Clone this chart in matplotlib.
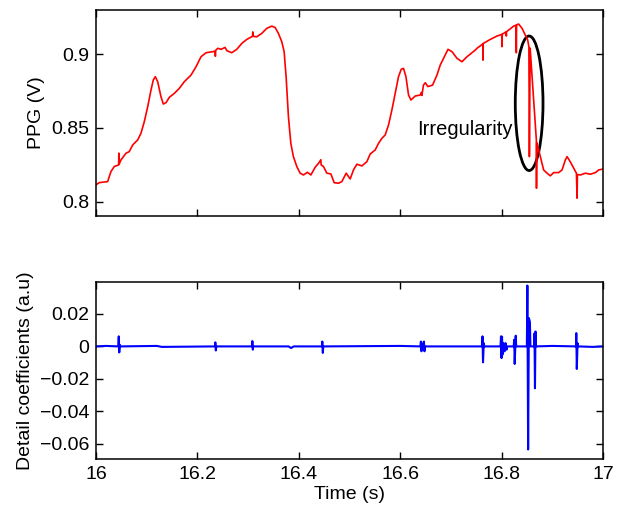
import numpy as np
import matplotlib
matplotlib.use("Agg")
import matplotlib.pyplot as plt
from matplotlib.patches import Ellipse

plt.rcParams['font.family'] = ['Liberation Sans', 'DejaVu Sans']
plt.rcParams['font.size'] = 14

# PPG trace: (time s, volts)
ppg_points = [
    (16.000, 0.8115), (16.0065, 0.8130), (16.0231, 0.8137), (16.0296, 0.8205),
    (16.0361, 0.8239), (16.0448, 0.8250), (16.0452, 0.8330), (16.0458, 0.8255),
    (16.0494, 0.8284), (16.0592, 0.8329), (16.0657, 0.8340), (16.0725, 0.8385),
    (16.0823, 0.8419), (16.0888, 0.8464), (16.0954, 0.8543), (16.1021, 0.8644),
    (16.1086, 0.8757), (16.1131, 0.8824), (16.1171, 0.8847), (16.1218, 0.8813),
    (16.1283, 0.8711), (16.1329, 0.8662), (16.1382, 0.8671), (16.1447, 0.8707),
    (16.1546, 0.8734), (16.1645, 0.8768), (16.1743, 0.8813), (16.1876, 0.8858),
    (16.1974, 0.8914), (16.2073, 0.8982), (16.2172, 0.9009), (16.2304, 0.9016),
    (16.2350, 0.9020), (16.2356, 0.8985), (16.2362, 0.9025), (16.2403, 0.9039),
    (16.2468, 0.9032), (16.2547, 0.9045), (16.2581, 0.9023), (16.2679, 0.9009),
    (16.2778, 0.9032), (16.2877, 0.9072), (16.2975, 0.9099), (16.3074, 0.9117),
    (16.3088, 0.9120), (16.3094, 0.9150), (16.3100, 0.9120), (16.3173, 0.9117),
    (16.3271, 0.9140), (16.3370, 0.9174), (16.3469, 0.9189), (16.3534, 0.9180),
    (16.3599, 0.9140), (16.3666, 0.9083), (16.3712, 0.9016), (16.3751, 0.8847),
    (16.3797, 0.8576), (16.3844, 0.8396), (16.3895, 0.8306), (16.3962, 0.8239),
    (16.4028, 0.8194), (16.4093, 0.8182), (16.4172, 0.8200), (16.4239, 0.8182),
    (16.4324, 0.8234), (16.4400, 0.8265), (16.4436, 0.8285), (16.4442, 0.8250),
    (16.4488, 0.8239), (16.4555, 0.8194), (16.4634, 0.8189), (16.4699, 0.8130),
    (16.4784, 0.8126), (16.4851, 0.8137), (16.4936, 0.8194), (16.5015, 0.8155),
    (16.5080, 0.8216), (16.5147, 0.8255), (16.5246, 0.8243), (16.5344, 0.8272),
    (16.5410, 0.8324), (16.5508, 0.8351), (16.5574, 0.8396), (16.5641, 0.8430),
    (16.5706, 0.8453), (16.5771, 0.8520), (16.5838, 0.8622), (16.5903, 0.8734),
    (16.5968, 0.8847), (16.6022, 0.8897), (16.6067, 0.8903), (16.6115, 0.8847),
    (16.6166, 0.8723), (16.6213, 0.8689), (16.6298, 0.8716), (16.6397, 0.8723),
    (16.6420, 0.8740), (16.6430, 0.8720), (16.6460, 0.8790), (16.6496, 0.8806),
    (16.6549, 0.8780), (16.6640, 0.8790), (16.6727, 0.8858), (16.6792, 0.8926),
    (16.6857, 0.8971), (16.6944, 0.9032), (16.7023, 0.9016), (16.7122, 0.8971),
    (16.7220, 0.8948), (16.7319, 0.8982), (16.7483, 0.9027), (16.7516, 0.9039),
    (16.7630, 0.9068), (16.7635, 0.8959), (16.7640, 0.9072), (16.7779, 0.9099),
    (16.7911, 0.9122), (16.8005, 0.9133), (16.8010, 0.9050), (16.8015, 0.9135),
    (16.8090, 0.9150), (16.8095, 0.9122), (16.8100, 0.9152), (16.8140, 0.9162),
    (16.8239, 0.9189), (16.8287, 0.9195), (16.8292, 0.9009), (16.8297, 0.9198),
    (16.8338, 0.9203), (16.8405, 0.9174), (16.8470, 0.9128), (16.8516, 0.9095),
    (16.8540, 0.9050), (16.8550, 0.8306), (16.8565, 0.9040), (16.8687, 0.8420),
    (16.8690, 0.8092), (16.8695, 0.8400), (16.8701, 0.8396), (16.8766, 0.8306),
    (16.8831, 0.8216), (16.8898, 0.8194), (16.8963, 0.8176), (16.9029, 0.8198),
    (16.9127, 0.8198), (16.9194, 0.8216), (16.9260, 0.8284), (16.9293, 0.8306),
    (16.9358, 0.8270), (16.9424, 0.8228), (16.9477, 0.8194), (16.9491, 0.8025),
    (16.9497, 0.8185), (16.9556, 0.8182), (16.9655, 0.8194), (16.9753, 0.8187),
    (16.9852, 0.8198), (16.9917, 0.8216), (17.000, 0.8222),
]

# detail coefficients: (time s, value)
detail_points = [
    (16.000, 0.0), (16.020, 0.0003), (16.044, 0.0), (16.045, 0.0062), (16.046, -0.0037),
    (16.047, 0.001), (16.048, 0.0), (16.120, 0.0003), (16.130, -0.0003),
    (16.235, 0.0), (16.2355, 0.0025), (16.2365, -0.0025), (16.2375, 0.0),
    (16.308, 0.0), (16.3085, 0.0033), (16.3095, -0.002), (16.310, 0.0),
    (16.380, 0.0), (16.385, -0.001), (16.390, 0.0),
    (16.446, 0.0), (16.4465, 0.003), (16.4475, -0.004), (16.4485, 0.0),
    (16.600, 0.0003), (16.640, 0.0), (16.641, 0.003), (16.642, -0.003), (16.644, 0.001),
    (16.647, 0.003), (16.648, -0.003), (16.649, 0.0),
    (16.762, 0.0), (16.7625, 0.0062), (16.7635, -0.0098), (16.765, 0.002), (16.766, 0.0),
    (16.798, 0.0), (16.799, 0.0062), (16.800, -0.0072), (16.801, 0.006), (16.802, -0.005),
    (16.804, 0.002), (16.806, -0.003), (16.808, 0.002), (16.810, -0.002), (16.811, 0.0),
    (16.824, 0.0), (16.825, 0.0041), (16.826, -0.0108), (16.828, 0.0066), (16.829, 0.0),
    (16.850, 0.0), (16.851, 0.0375), (16.8525, -0.0635), (16.854, 0.0175), (16.856, 0.015),
    (16.857, 0.0), (16.864, 0.0), (16.865, 0.008), (16.866, -0.0258), (16.867, 0.0092),
    (16.868, 0.0), (16.900, 0.0003), (16.947, 0.0), (16.9475, 0.0082), (16.9485, -0.0139),
    (16.950, 0.002), (16.951, 0.0), (16.980, -0.0003), (17.000, 0.0),
]

x_ticks = [16, 16.2, 16.4, 16.6, 16.8, 17]
x_labels = ['16', '16.2', '16.4', '16.6', '16.8', '17']
ppg_ticks = [0.8, 0.85, 0.9]
ppg_labels = ['0.8', '0.85', '0.9']
det_ticks = [-0.06, -0.04, -0.02, 0, 0.02]
det_labels = ['\u22120.06', '\u22120.04', '\u22120.02', '0', '0.02']

ppg = np.array(ppg_points)
det = np.array(detail_points)

fig = plt.figure(figsize=(6.19, 5.08), dpi=100)
ax1 = fig.add_axes([0.155, 0.575, 0.819, 0.405])
ax2 = fig.add_axes([0.155, 0.096, 0.819, 0.348])

ax1.plot(ppg[:, 0], ppg[:, 1], color='red', lw=1.2)
ax1.set_xlim(16, 17)
ax1.set_ylim(0.7905, 0.9297)
ax1.set_xticks(x_ticks)
ax1.set_xticklabels([])
ax1.set_yticks(ppg_ticks)
ax1.set_yticklabels(ppg_labels)
ax1.set_ylabel('PPG (V)')
ax1.add_patch(Ellipse((16.8545, 0.8667), 0.0547, 0.091, fill=False, ec='black', lw=2))
ax1.text(16.633, 0.8453, 'Irregularity', fontsize=14.5, va='baseline', ha='left')

ax2.plot(det[:, 0], det[:, 1], color='blue', lw=1.5)
ax2.set_xlim(16, 17)
ax2.set_ylim(-0.0695, 0.0394)
ax2.set_xticks(x_ticks)
ax2.set_xticklabels(x_labels)
ax2.set_yticks(det_ticks)
ax2.set_yticklabels(det_labels)
ax2.set_ylabel('Detail coefficients (a.u)')
ax2.set_xlabel('Time (s)', labelpad=2)

for ax in (ax1, ax2):
    ax.tick_params(direction='in', top=True, right=True, length=5, width=1, pad=5)
    for s in ax.spines.values():
        s.set_linewidth(1.1)

fig.savefig('out.png', dpi=100)
